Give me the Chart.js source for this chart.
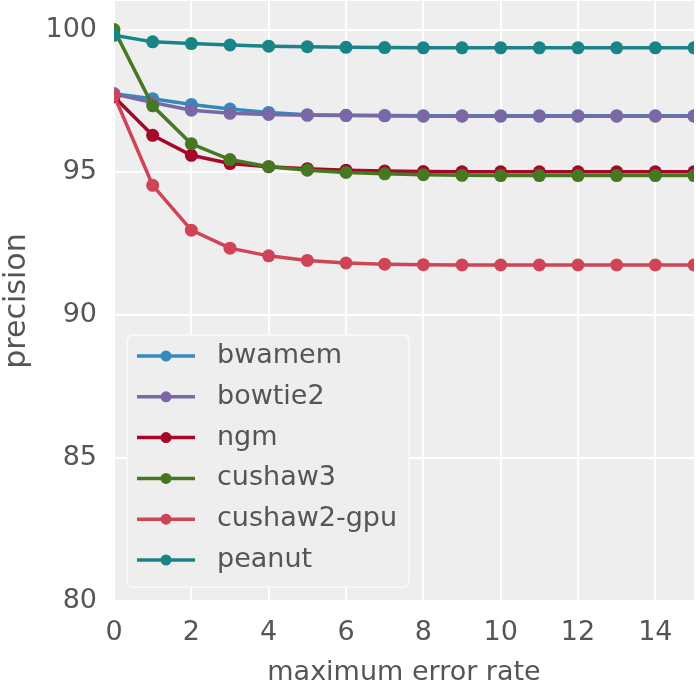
<!DOCTYPE html>
<html>
<head>
<meta charset="utf-8">
<title>precision vs maximum error rate</title>
<script src="https://cdn.jsdelivr.net/npm/chart.js@4.4.1/dist/chart.umd.min.js"></script>
<style>
    html, body { margin: 0; padding: 0; background: #ffffff; }
    #wrap { width: 696px; height: 688px; }
</style>
</head>
<body>
<div id="wrap"><canvas id="precisionChart" width="696" height="688"></canvas></div>
<script>
// ==================== Data ====================

const errorRates = [0, 1, 2, 3, 4, 5, 6, 7, 8, 9, 10, 11, 12, 13, 14, 15];

const bwamem     = [97.75, 97.58, 97.38, 97.22, 97.10, 97.02, 97.00, 96.99, 96.98, 96.98, 96.98, 96.98, 96.98, 96.98, 96.98, 96.98];
const bowtie2    = [97.75, 97.45, 97.18, 97.07, 97.03, 97.00, 96.99, 96.98, 96.97, 96.97, 96.97, 96.97, 96.97, 96.97, 96.97, 96.97];
const ngm        = [97.65, 96.30, 95.60, 95.31, 95.20, 95.13, 95.08, 95.05, 95.03, 95.02, 95.02, 95.02, 95.02, 95.02, 95.02, 95.02];
const cushaw3    = [100.0, 97.33, 96.00, 95.45, 95.20, 95.08, 95.00, 94.95, 94.92, 94.90, 94.89, 94.89, 94.89, 94.89, 94.89, 94.89];
const cushaw2gpu = [97.70, 94.55, 92.98, 92.35, 92.08, 91.92, 91.83, 91.79, 91.77, 91.76, 91.76, 91.76, 91.76, 91.76, 91.76, 91.76];
const peanut     = [99.80, 99.57, 99.51, 99.46, 99.42, 99.40, 99.38, 99.37, 99.36, 99.36, 99.36, 99.36, 99.36, 99.36, 99.36, 99.36];

const seriesNames  = ['bwamem', 'bowtie2', 'ngm', 'cushaw3', 'cushaw2-gpu', 'peanut'];
const seriesValues = [bwamem, bowtie2, ngm, cushaw3, cushaw2gpu, peanut];
const seriesColors = ['#348ABD', '#7A68A6', '#A60628', '#467821', '#CF4457', '#188487'];

const xTitle = 'maximum error rate';
const yTitle = 'precision';

// ==================== Styling ====================

const textColor = '#555555';
const fontFamily = "'DejaVu Sans', 'Liberation Sans', sans-serif";
const fontSize = 27;

// grey plotting area behind the grid
const plotBackground = {
    id: 'plotBackground',
    beforeDraw(chart) {
        const { ctx, chartArea } = chart;
        ctx.save();
        ctx.fillStyle = '#ffffff';
        ctx.fillRect(0, 0, chart.width, chart.height);
        ctx.fillStyle = '#eeeeee';
        ctx.fillRect(chartArea.left, chartArea.top, chartArea.right - chartArea.left, chartArea.bottom - chartArea.top);
        ctx.restore();
    }
};

// legend box in the lower left of the plot
const insideLegend = {
    id: 'insideLegend',
    afterDraw(chart) {
        const { ctx, chartArea } = chart;
        const datasets = chart.data.datasets;
        const rowGap = 40.8;

        ctx.save();
        ctx.font = fontSize + 'px ' + fontFamily;
        let maxText = 0;
        datasets.forEach(ds => { maxText = Math.max(maxText, ctx.measureText(ds.label).width); });

        const boxLeft = chartArea.left + 13;
        const boxBottom = chartArea.bottom - 14;
        const boxHeight = 252;
        const boxTop = boxBottom - boxHeight;
        const textX = boxLeft + 90;
        const boxWidth = (textX - boxLeft) + maxText + 12;

        ctx.beginPath();
        ctx.roundRect(boxLeft, boxTop, boxWidth, boxHeight, 6);
        ctx.fillStyle = '#eeeeee';
        ctx.fill();
        ctx.lineWidth = 1.5;
        ctx.strokeStyle = '#fafafa';
        ctx.stroke();

        datasets.forEach((ds, i) => {
            const y = boxTop + 21 + i * rowGap;
            ctx.strokeStyle = ds.borderColor;
            ctx.lineWidth = 3.5;
            ctx.beginPath();
            ctx.moveTo(boxLeft + 10, y);
            ctx.lineTo(boxLeft + 68, y);
            ctx.stroke();

            ctx.fillStyle = ds.borderColor;
            ctx.beginPath();
            ctx.arc(boxLeft + 39, y, 5.5, 0, Math.PI * 2);
            ctx.fill();

            ctx.fillStyle = textColor;
            ctx.textAlign = 'left';
            ctx.textBaseline = 'middle';
            ctx.fillText(ds.label, textX, y);
        });
        ctx.restore();
    }
};

// ==================== Chart ====================

const datasets = seriesNames.map((name, i) => ({
    label: name,
    data: errorRates.map((x, j) => ({ x: x, y: seriesValues[i][j] })),
    borderColor: seriesColors[i],
    backgroundColor: seriesColors[i],
    pointBackgroundColor: seriesColors[i],
    borderWidth: 3.5,
    pointRadius: 6.5,
    pointBorderWidth: 0,
    tension: 0,
    clip: 0,
    // later series are drawn on top
    order: seriesNames.length - i
}));

new Chart(document.getElementById('precisionChart'), {
    type: 'line',
    data: { datasets: datasets },
    plugins: [plotBackground, insideLegend],
    options: {
        responsive: false,
        animation: false,
        layout: { autoPadding: false, padding: { top: 1, right: 2, left: 0, bottom: 0 } },
        plugins: {
            legend: { display: false },
            tooltip: { enabled: false }
        },
        scales: {
            x: {
                type: 'linear',
                min: 0,
                max: 15,
                afterFit(scale) {
                    scale.height = 87;
                    scale.paddingLeft = 0;
                    scale.paddingRight = 0;
                },
                border: { display: false },
                grid: { color: '#ffffff', lineWidth: 2, drawTicks: false },
                ticks: {
                    stepSize: 2,
                    includeBounds: false,
                    autoSkip: false,
                    maxRotation: 0,
                    padding: 16,
                    color: textColor,
                    font: { family: fontFamily, size: fontSize }
                },
                title: {
                    display: true,
                    text: xTitle,
                    color: textColor,
                    padding: { top: 0, bottom: -1 },
                    font: { family: fontFamily, size: fontSize }
                }
            },
            y: {
                type: 'linear',
                min: 80,
                max: 101,
                afterFit(scale) {
                    scale.width = 114;
                    scale.paddingTop = 0;
                    scale.paddingBottom = 0;
                },
                border: { display: false },
                grid: { color: '#ffffff', lineWidth: 2, drawTicks: false },
                ticks: {
                    stepSize: 5,
                    includeBounds: false,
                    autoSkip: false,
                    padding: 17,
                    color: textColor,
                    font: { family: fontFamily, size: fontSize }
                },
                title: {
                    display: true,
                    text: yTitle,
                    color: textColor,
                    padding: { top: -1, bottom: 0 },
                    font: { family: fontFamily, size: 30 }
                }
            }
        }
    }
});
</script>
</body>
</html>
